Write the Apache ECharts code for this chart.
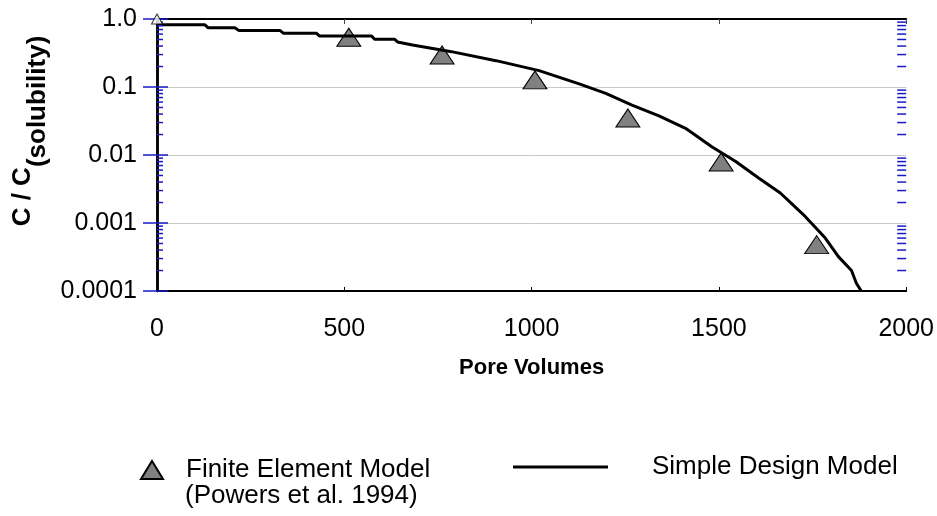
<!DOCTYPE html>
<html><head><meta charset="utf-8">
<script src="https://cdn.jsdelivr.net/npm/echarts@6/dist/echarts.min.js"></script>
<style>html,body{margin:0;padding:0;background:#fff}#c{width:937px;height:516px}</style>
</head><body><div id="c"></div>
<script>
// Finite Element Model (Powers et al. 1994)
const feX = [512, 761, 1009, 1257, 1506, 1761];
const feY = [0.54, 0.295, 0.127, 0.035, 0.0079, 0.00048];
// small open marker at the origin
const startX = [0];
const startY = [1.0];
// Simple Design Model
const sdX = [0, 128, 136, 208, 218, 328, 338, 426, 434, 573, 581, 634, 642, 682, 786, 905, 1020, 1127, 1198, 1268, 1340, 1411, 1481, 1545, 1606, 1664, 1731, 1784, 1819, 1854, 1867, 1880];
const sdY = [0.82, 0.82, 0.745, 0.745, 0.68, 0.68, 0.615, 0.615, 0.56, 0.56, 0.505, 0.505, 0.46, 0.415, 0.331, 0.244, 0.174, 0.111, 0.0808, 0.0543, 0.0375, 0.0247, 0.0132, 0.008, 0.0046, 0.00276, 0.00124, 0.0006, 0.00032, 0.0002, 0.00013, 0.0001];
// axes
const xTickValues = [0, 500, 1000, 1500, 2000];
const xTickLabels = ['0', '500', '1000', '1500', '2000'];
const yTickValues = [0.0001, 0.001, 0.01, 0.1, 1];
const yTickLabels = ['0.0001', '0.001', '0.01', '0.1', '1.0'];
const minorTickValues = [0.0002,0.0003,0.0004,0.0005,0.0006,0.0007,0.0008,0.0009,
  0.002,0.003,0.004,0.005,0.006,0.007,0.008,0.009,
  0.02,0.03,0.04,0.05,0.06,0.07,0.08,0.09,
  0.2,0.3,0.4,0.5,0.6,0.7,0.8,0.9];

const FONT = '"Liberation Sans", Arial, sans-serif';
const FS = 25;
const LFS = 26;
const chart = echarts.init(document.getElementById('c'), null, {renderer: 'canvas'});

function yLabel(v) {
  const k = Math.round(Math.log10(v));
  const i = yTickValues.findIndex(t => Math.round(Math.log10(t)) === k);
  return i >= 0 ? yTickLabels[i] : '';
}
function xLabel(v) {
  const i = xTickValues.indexOf(Math.round(v));
  return i >= 0 ? xTickLabels[i] : '';
}

const option = {
  animation: false,
  backgroundColor: '#fff',
  grid: {left: 157, right: 29, top: 19, bottom: 225, containLabel: false},
  xAxis: [{
    type: 'value', min: xTickValues[0], max: xTickValues[xTickValues.length - 1], interval: 500,
    position: 'bottom',
    axisLine: {lineStyle: {color: '#000', width: 2}},
    axisTick: {inside: true, length: 4, lineStyle: {color: '#000', width: 1}},
    axisLabel: {color: '#000', fontSize: FS, fontFamily: FONT, margin: 26, formatter: xLabel},
    splitLine: {show: false},
    name: 'Pore Volumes', nameLocation: 'middle', nameGap: 66,
    nameTextStyle: {color: '#000', fontSize: 22, fontWeight: 'bold', fontFamily: FONT}
  }, {
    type: 'value', min: 0, max: 2000, interval: 500, position: 'top',
    axisLine: {lineStyle: {color: '#000', width: 2}},
    axisTick: {inside: true, length: 5, lineStyle: {color: '#444', width: 1}},
    axisLabel: {show: false}, splitLine: {show: false}
  }],
  yAxis: [{
    type: 'log', logBase: 10, min: 0.0001, max: 1,
    axisLine: {lineStyle: {color: '#000', width: 2.5}},
    axisTick: {inside: true, length: 11, lineStyle: {color: '#1a1ac8', width: 1.5}},
    axisLabel: {color: '#000', fontSize: FS, fontFamily: FONT, margin: 20, formatter: yLabel},
    splitLine: {show: true, lineStyle: {color: '#c8c8c8', width: 1}}
  }, {
    type: 'log', logBase: 10, min: 0.0001, max: 1, position: 'right',
    axisLine: {lineStyle: {color: '#000', width: 2.5}},
    axisTick: {inside: true, length: 14, lineStyle: {color: '#1a1ac8', width: 1.5}},
    axisLabel: {show: false}, splitLine: {show: false}
  }],
  legend: [{
    data: ['Finite Element Model'], left: 140, top: 457, padding: 0, itemWidth: 22, itemHeight: 18,
    icon: 'triangle',
    textStyle: {color: '#000', fontSize: LFS, fontFamily: FONT, lineHeight: 26, padding: [0, 0, 0, 18]}
  }, {
    data: [{name: 'Simple Design Model', icon: 'rect'}], left: 513, top: 454, padding: 0, itemWidth: 95, itemHeight: 3,
    textStyle: {color: '#000', fontSize: LFS, fontFamily: FONT, lineHeight: 26, padding: [0, 0, 0, 39]}
  }],
  graphic: [{
    type: 'text', left: 185, top: 483,
    style: {text: '(Powers et al. 1994)', fill: '#000', fontSize: LFS, fontFamily: FONT, lineHeight: 26}
  }, {
    type: 'text', x: 30, y: 131, rotation: Math.PI / 2,
    style: {
      text: '{a|C / C}{b|(solubility)}', align: 'center', verticalAlign: 'middle',
      rich: {
        a: {fontSize: 26, fontWeight: 'bold', fontFamily: FONT, fill: '#000', lineHeight: 27, verticalAlign: 'top'},
        b: {fontSize: 26, fontWeight: 'bold', fontFamily: FONT, fill: '#000', lineHeight: 41, verticalAlign: 'bottom'}
      }
    }
  }],
  series: [{
    name: 'Finite Element Model', type: 'scatter',
    data: feX.map((x, i) => [x, feY[i]]),
    symbol: 'triangle', symbolSize: [24, 18],
    itemStyle: {color: '#808080', borderColor: '#000', borderWidth: 1, opacity: 1},
    z: 3
  }, {
    name: 'start', type: 'scatter',
    data: startX.map((x, i) => [x, startY[i]]),
    symbol: 'triangle', symbolSize: [11, 10], clip: false,
    itemStyle: {color: '#fff', borderColor: '#000', borderWidth: 1},
    z: 6
  }, {
    name: 'Simple Design Model', type: 'line',
    data: sdX.map((x, i) => [x, sdY[i]]),
    symbol: 'none', smooth: false,
    lineStyle: {color: '#000', width: 3},
    itemStyle: {color: '#000'},
    z: 4
  }, {
    name: 'minorTicks', type: 'custom', silent: true, clip: false,
    data: minorTickValues.map(v => [0, v]),
    renderItem: function (params, api) {
      const v = api.value(1);
      const pL = api.coord([xTickValues[0], v]);
      const pR = api.coord([xTickValues[xTickValues.length - 1], v]);
      return {type: 'group', children: [
        {type: 'line', shape: {x1: pL[0], y1: pL[1], x2: pL[0] + 6, y2: pL[1]}, style: {stroke: '#1a1ac8', lineWidth: 1.5}},
        {type: 'line', shape: {x1: pR[0] - 9, y1: pR[1], x2: pR[0], y2: pR[1]}, style: {stroke: '#1a1ac8', lineWidth: 1.5}}
      ]};
    },
    z: 5
  }]
};
chart.setOption(option);
</script>
</body></html>
